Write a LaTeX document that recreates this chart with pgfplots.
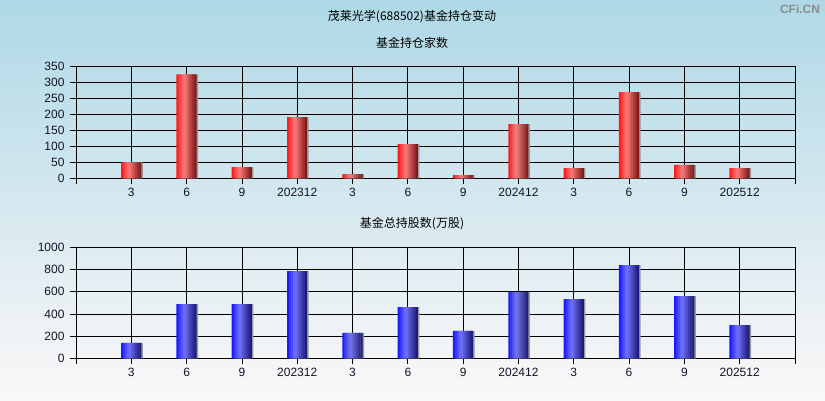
\documentclass[border=0pt]{standalone}
\usepackage{pgfplots}
\usepackage{pgfplotstable}
\pgfplotsset{compat=1.18}
\usepackage{fontspec}
\setmainfont{Liberation Sans}
\newfontfamily\cjk{Noto Sans CJK SC}
\definecolor{bgtop}{RGB}{174,216,230}
\definecolor{bgmid}{RGB}{212,232,240}
\definecolor{bgbot}{RGB}{251,248,248}
\definecolor{rl}{RGB}{255,15,15}
\definecolor{rm}{RGB}{255,125,125}
\definecolor{rr}{RGB}{120,18,18}
\definecolor{bl}{RGB}{15,15,255}
\definecolor{bm}{RGB}{115,115,255}
\definecolor{br}{RGB}{22,22,115}
\definecolor{tickc}{RGB}{20,20,40}
\definecolor{wm}{RGB}{140,140,140}
\pgfplotstableread{
x y
1 50
2 326
3 35
4 192
5 13
6 107
7 10
8 170
9 32
10 270
11 42
12 32
}\topdata
\pgfplotstableread{
x y
1 138
2 489
3 489
4 786
5 228
6 462
7 246
8 597
9 534
10 840
11 561
12 300
}\botdata
\newcommand{\slice}[3]{\addplot[fill=#2, draw=none, bar width=2.4pt, bar shift=#1pt, forget plot] table[x=x,y=y] {#3};}
\newcommand{\bars}[4]{%
  \addplot[fill=gray!80, draw=none, bar width=20pt, bar shift=1.5pt, forget plot] table[x=x,y=y] {#4};
  \slice{-9}{#2!12!#1}{#4}
  \slice{-7}{#2!38!#1}{#4}
  \slice{-5}{#2!62!#1}{#4}
  \slice{-3}{#2!88!#1}{#4}
  \slice{-1}{#3!8!#2}{#4}
  \slice{1}{#3!25!#2}{#4}
  \slice{3}{#3!42!#2}{#4}
  \slice{5}{#3!58!#2}{#4}
  \slice{7}{#3!75!#2}{#4}
  \addplot[fill=#3!92!#2, draw=none, bar width=2pt, bar shift=9pt, forget plot] table[x=x,y=y] {#4};
}
\begin{document}
\begin{tikzpicture}[x=1pt,y=1pt]
\shade[top color=bgtop, middle color=bgmid, bottom color=bgbot] (0,0) rectangle (825,400);
\node[font=\fontsize{12}{14}\selectfont\cjk] at (412,383) {茂莱光学(688502)基金持仓变动};
\node[font=\fontsize{12}{14}\selectfont\cjk] at (412,357) {基金持仓家数};
\node[font=\fontsize{12}{14}\selectfont\cjk] at (412,176) {基金总持股数(万股)};
\node[font=\fontsize{12}{14}\selectfont\bfseries, text=wm] at (800,391) {CFi.CN};
\pgfplotsset{
  mystyle/.style={
    scale only axis, width=719pt,
    xmin=0, xmax=13, ymin=0,
    xtick={0,...,13},
    xticklabels={,3,6,9,202312,3,6,9,202412,3,6,9,202512,},
    grid=major, grid style={black, line width=0.8pt},
    axis line style={black, line width=0.8pt},
    tick style={black, line width=0.8pt},
    tick align=outside, major tick length=6pt,
    tick pos=left,
    ticklabel style={font=\fontsize{12}{14}\selectfont, text=tickc},
    yticklabel style={xshift=-2pt},
    /pgf/number format/assume math mode=true,
    /pgf/number format/set thousands separator={},
    ybar,
  }
}
\begin{axis}[mystyle, at={(76pt,221.7pt)}, anchor=south west, height=111.6pt,
  ymax=350, ytick={0,50,...,350}]
\bars{rl}{rm}{rr}{\topdata}
\end{axis}
\begin{axis}[mystyle, at={(76pt,41.7pt)}, anchor=south west, height=111pt,
  ymax=1000, ytick={0,200,...,1000}]
\bars{bl}{bm}{br}{\botdata}
\end{axis}
\end{tikzpicture}
\end{document}
